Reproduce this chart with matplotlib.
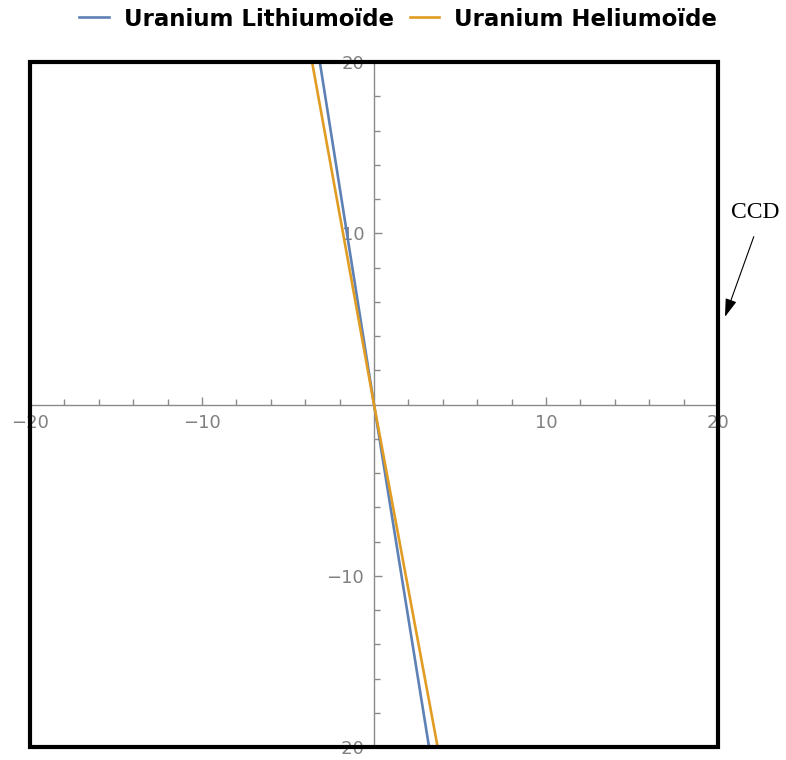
import matplotlib.pyplot as plt
from matplotlib.patches import Rectangle

# x position of each line at y = 20, 0, -20
y_pts = [20, 0, -20]
lithium_x = [-3.15, 0, 3.2]
helium_x = [-3.6, 0, 3.7]

series_names = ['Uranium Lithiumoïde', 'Uranium Heliumoïde']
series_colors = ['#5E81B5', '#E19C24']
major_ticks = [-20, -10, 10, 20]
minor_ticks = [v for v in range(-18, 20, 2) if v % 10 != 0]

AXIS_GRAY = '#8a8a8a'
LABEL_GRAY = '#808080'

fig = plt.figure(figsize=(7.86, 7.6), dpi=100)
ax = fig.add_axes([30 / 786, 13 / 760, 688 / 786, 685 / 760])

ax.plot(lithium_x, y_pts, color=series_colors[0], lw=1.9, label=series_names[0], zorder=3)
ax.plot(helium_x, y_pts, color=series_colors[1], lw=1.9, label=series_names[1], zorder=3)

ax.set_xlim(-20, 20)
ax.set_ylim(-20, 20)

# axes through the origin, Mathematica style
for side in ['top', 'right']:
    ax.spines[side].set_visible(False)
for side in ['left', 'bottom']:
    ax.spines[side].set_position('zero')
    ax.spines[side].set_color(AXIS_GRAY)
    ax.spines[side].set_linewidth(1.0)

ax.set_xticks(major_ticks)
ax.set_yticks(major_ticks)
ax.set_xticks(minor_ticks, minor=True)
ax.set_yticks(minor_ticks, minor=True)
ax.set_xticklabels(['\u221220', '\u221210', '10', '20'])
ax.set_yticklabels(['\u221220', '\u221210', '10', '20'])
ax.tick_params(which='major', direction='in', length=6, width=1, color=AXIS_GRAY,
               labelcolor=LABEL_GRAY, labelsize=13, pad=7)
ax.tick_params(which='minor', direction='in', length=4, width=1, color=AXIS_GRAY)

# thick black frame around plot area
ax.add_patch(Rectangle((0, 0), 1, 1, transform=ax.transAxes, fill=False,
                       edgecolor='black', lw=3, clip_on=False, zorder=6))

fig.legend(loc='center', bbox_to_anchor=(398 / 786, 1 - 19 / 760), ncol=2, frameon=False,
           prop={'weight': 'bold', 'size': 16.5}, handlelength=1.3, handletextpad=0.65,
           columnspacing=0.7)

# CCD label with arrow
ax.text(1.054, 0.78, 'CCD', transform=ax.transAxes, ha='center', va='center',
        fontsize=17, family='Liberation Serif', color='black')
ax.annotate('', xy=(1.0102, 0.628), xycoords='axes fraction',
            xytext=(1.052, 0.745), textcoords='axes fraction',
            arrowprops=dict(arrowstyle='-|>,head_length=1.1,head_width=0.35',
                            color='black', lw=0.8, shrinkA=0, shrinkB=0))

fig.savefig('out.png', dpi=100)
